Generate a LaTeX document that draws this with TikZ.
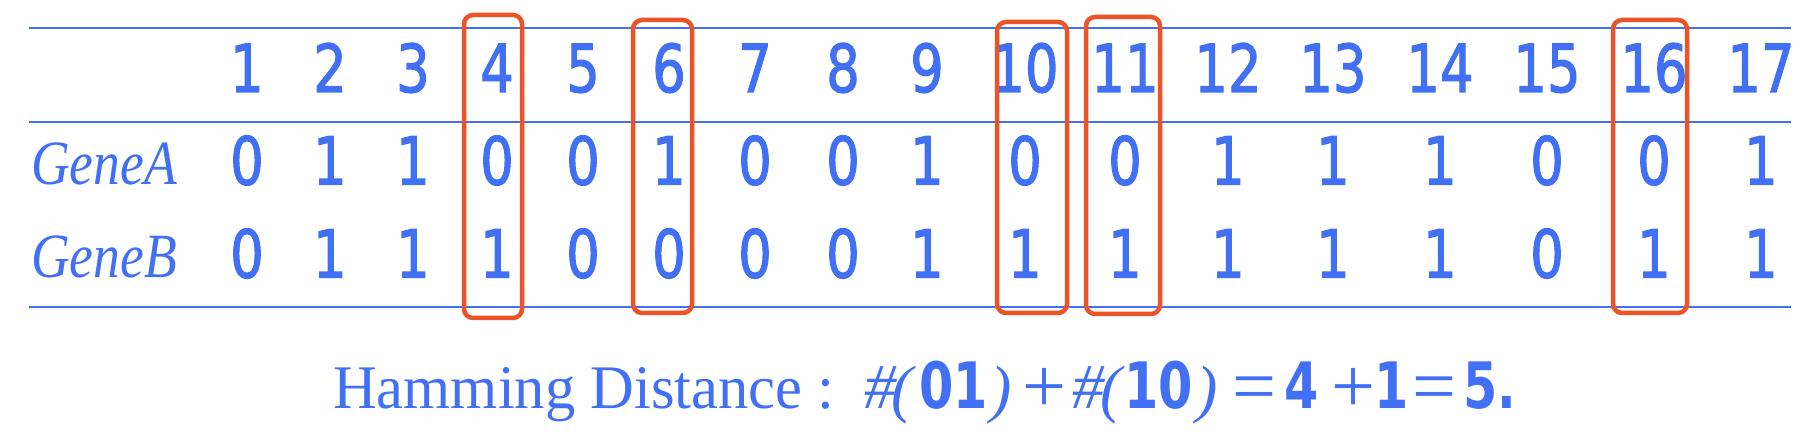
\documentclass[tikz,border=0pt]{standalone}
\usepackage{fontspec}
\setmainfont{Liberation Serif}
\newfontfamily\digfont[FakeBold=2]{DejaVu Sans}
\newfontfamily\bdigfont{DejaVu Sans Bold}
\definecolor{tblue}{RGB}{66,112,245}
\definecolor{tred}{RGB}{236,84,40}
\newcommand{\narrowdig}[1]{\scalebox{0.8}[1]{#1}}
\newcommand{\narrowbold}[1]{\scalebox{0.77}[1]{#1}}
\begin{document}
\begin{tikzpicture}[x=1pt,y=-1pt,
  rule/.style={draw=tblue,line width=2pt},
  hbox/.style={draw=tred,line width=4.5pt,rounded corners=9pt,inner sep=0pt,outer sep=0pt},
  dig/.style={text=tblue,inner sep=0pt,anchor=base,font=\digfont\fontsize{66}{66}\selectfont},
  lbl/.style={text=tblue,inner sep=0pt,anchor=base west,font=\itshape\fontsize{63}{63}\selectfont},
  bt/.style={text=tblue,inner sep=0pt,anchor=base west,font=\fontsize{62}{62}\selectfont},
  bop/.style={text=tblue,inner sep=0pt,anchor=base west,font=\fontsize{78}{78}\selectfont},
  bit/.style={text=tblue,inner sep=0pt,anchor=base west,font=\itshape\fontsize{64}{64}\selectfont},
  bdig/.style={text=tblue,inner sep=0pt,anchor=base west,font=\bdigfont\fontsize{64}{64}\selectfont}]
\useasboundingbox[fill=white] (0,0) rectangle (1818,438);
% rules
\coordinate (L1) at (29,28.5);  \coordinate (R1) at (1791,28.5);
\coordinate (L2) at (29,122.5); \coordinate (R2) at (1791,122.5);
\coordinate (L3) at (29,307);   \coordinate (R3) at (1791,307);
\draw[rule] (L1) -- (R1);
\draw[rule] (L2) -- (R2);
\draw[rule] (L3) -- (R3);
% header numbers and rows
\foreach \x/\a/\b [count=\i] in {247/0/0,330/1/1,413/1/1,497/0/1,583/0/0,669/1/0,755/0/0,843/0/0,927/1/1,1025/0/1,1125/0/1,1228/1/1,1333/1/1,1440/1/1,1547/0/0,1654/0/1,1761/1/1}{
  \node[dig] (h\i) at (\x,92) {\narrowdig{\i}};
  \node[dig] (a\i) at (\x,184.5) {\narrowdig{\a}};
  \node[dig] (b\i) at (\x,277.5) {\narrowdig{\b}};
}
\node[lbl] (geneA) at (31,185) {\scalebox{0.85}[1]{GeneA}};
\node[lbl] (geneB) at (31,278) {\scalebox{0.85}[1]{GeneB}};
% highlight boxes
\node[hbox,minimum width=58pt,minimum height=303pt] (box4) at (493,166.5) {};
\node[hbox,minimum width=59pt,minimum height=293pt] (box6) at (662.5,166.5) {};
\node[hbox,minimum width=70pt,minimum height=291pt] (box10) at (1032,167.5) {};
\node[hbox,minimum width=74pt,minimum height=297pt] (box11) at (1123,165.5) {};
\node[hbox,minimum width=74pt,minimum height=293pt] (box16) at (1650,166.5) {};
% bottom formula
\node[bt] (ham) at (333,408) {\scalebox{0.977}[1]{Hamming Distance :}};
\node[bit] (m1) at (864,408) {\#};
\node[bit] (m2) at (891,410) {(};
\node[bdig] (m3) at (919,408) {\narrowbold{01}};
\node[bit] (m4) at (990,410) {)};
\node[bop] (m5) at (1022,412) {+};
\node[bit] (m6) at (1072,408) {\#};
\node[bit] (m7) at (1100,410) {(};
\node[bdig] (m8) at (1124,408) {\narrowbold{10}};
\node[bit] (m9) at (1196,410) {)};
\node[bop] (m10) at (1232,412) {=};
\node[bdig] (m11) at (1284,408) {\narrowbold{4}};
\node[bop] (m12) at (1331,412) {+};
\node[bdig] (m13) at (1374,408) {\narrowbold{1}};
\node[bop] (m14) at (1412,412) {=};
\node[bdig] (m15) at (1463,408) {\narrowbold{5.}};
\end{tikzpicture}
\end{document}
